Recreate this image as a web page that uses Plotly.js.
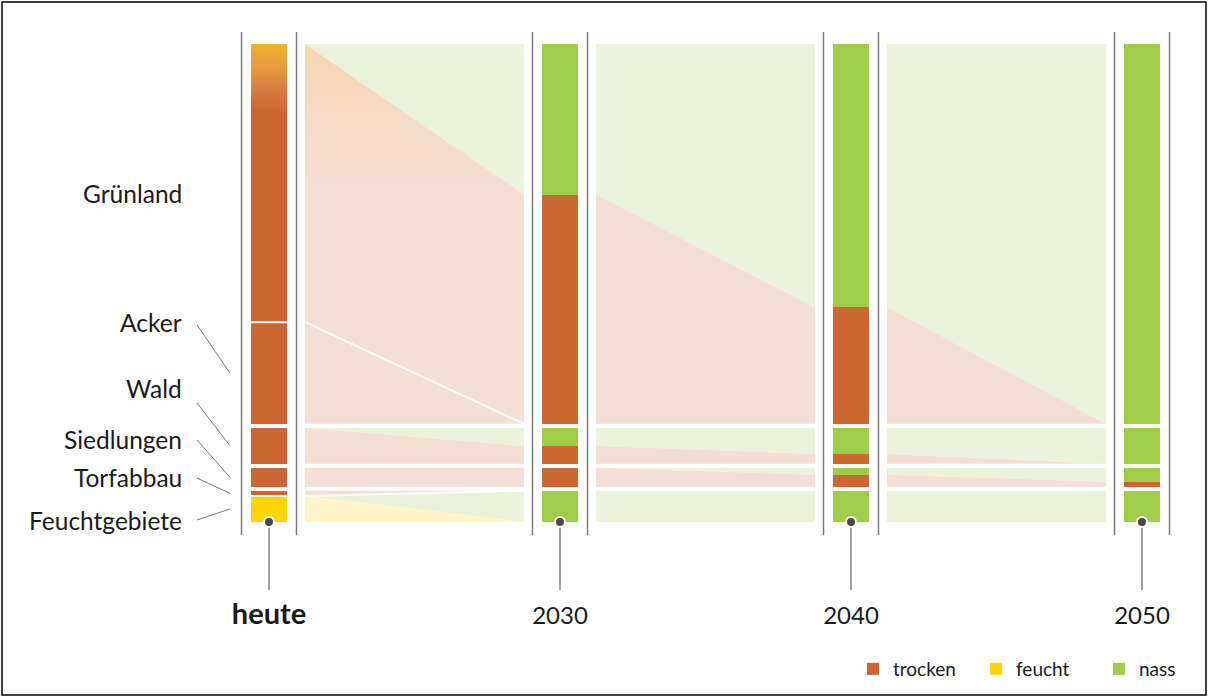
<!DOCTYPE html>
<html><head><meta charset="utf-8">
<script src="https://cdn.plot.ly/plotly-3.0.1.min.js"></script>
<style>html,body{margin:0;padding:0;background:#fff}#chart{width:1208px;height:697px}</style>
</head><body><div id="chart"></div>
<script>
// ---------- DATA (shares of peatland area, %) ----------
const years = ['heute', '2030', '2040', '2050'];
const categories = ['Grünland', 'Acker', 'Wald', 'Siedlungen', 'Torfabbau', 'Feuchtgebiete'];
const categoryGroup = [0, 0, 1, 2, 3, 3];
const stateNames = ['trocken', 'feucht', 'nass'];

const gruenlandNass    = [0, 32.3, 56.5, 81.5];
const gruenlandTrocken = [59.7, 49.2, 25.0, 0];
const gruenlandFeucht  = [0, 0, 0, 0];
const ackerNass        = [0, 0, 0, 0];
const ackerTrocken     = [21.8, 0, 0, 0];
const ackerFeucht      = [0, 0, 0, 0];
const waldNass         = [0, 3.9, 5.6, 7.7];
const waldTrocken      = [7.7, 3.8, 2.1, 0];
const waldFeucht       = [0, 0, 0, 0];
const siedlungenNass   = [0, 0, 1.5, 3.0];
const siedlungenTrocken= [4.1, 4.1, 2.6, 1.1];
const siedlungenFeucht = [0, 0, 0, 0];
const torfabbauNass    = [0, 0, 0, 0];
const torfabbauTrocken = [1.1, 0, 0, 0];
const torfabbauFeucht  = [0, 0, 0, 0];
const feuchtgebieteNass    = [0, 6.7, 6.7, 6.7];
const feuchtgebieteTrocken = [0, 0, 0, 0];
const feuchtgebieteFeucht  = [5.6, 0, 0, 0];

// table built from the arrays above: [category][state] -> values per year
const values = [
  {nass: gruenlandNass, trocken: gruenlandTrocken, feucht: gruenlandFeucht},
  {nass: ackerNass, trocken: ackerTrocken, feucht: ackerFeucht},
  {nass: waldNass, trocken: waldTrocken, feucht: waldFeucht},
  {nass: siedlungenNass, trocken: siedlungenTrocken, feucht: siedlungenFeucht},
  {nass: torfabbauNass, trocken: torfabbauTrocken, feucht: torfabbauFeucht},
  {nass: feuchtgebieteNass, trocken: feuchtgebieteTrocken, feucht: feuchtgebieteFeucht}
];

// ---------- STYLE / GEOMETRY ----------
const W = 1208, H = 697, MB = 98, PH = H - MB;
const X0PX = 269, XSTEP = 291;
const BAR_TOP_PX = 44, BAR_BOT_PX = 522, GAP_PX = 4;
const BAR_HALF_PX = 18, FLOW_OFF_PX = 36, SIDE_PX = 27.5;
const FONT = 'Lato, "Open Sans", "DejaVu Sans", sans-serif';
const stackOrder = ['nass', 'trocken', 'feucht'];
const barColor  = {trocken: '#CC6633', feucht: '#FFD400', nass: '#A0CC4B'};
const flowColor = {trocken: '#F5DFD5', feucht: '#FFF4C6', nass: '#EAF2D9'};

const nGroups = new Set(categoryGroup).size;
const total = values.reduce((a, c) => a + stackOrder.reduce((b, s) => b + c[s][0], 0), 0);
const k = (BAR_BOT_PX - BAR_TOP_PX - (nGroups - 1) * GAP_PX) / total; // px per %
const gapU = GAP_PX / k;
const topU = total + (nGroups - 1) * gapU;
const px2x = p => (p - X0PX) / XSTEP;
const py2y = p => (BAR_BOT_PX - p) / k;
const dx = px => px / XSTEP;
const pyPaper = p => (PH - p) / PH;

function stackYear(i) {
  let cur = topU, prevG = null;
  const seg = [], catTop = [], catBot = [];
  categories.forEach((c, ci) => {
    if (prevG !== null && categoryGroup[ci] !== prevG) cur -= gapU;
    prevG = categoryGroup[ci];
    catTop[ci] = cur;
    seg[ci] = {};
    stackOrder.forEach(s => {
      const v = values[ci][s][i];
      seg[ci][s] = {top: cur, bot: cur - v, v: v};
      cur -= v;
    });
    catBot[ci] = cur;
  });
  return {seg, catTop, catBot};
}
const stacks = years.map((y, i) => stackYear(i));

const traces = [];

// ---------- FLOWS ----------
for (let i = 0; i < years.length - 1; i++) {
  const xl = i + dx(FLOW_OFF_PX), xr = i + 1 - dx(FLOW_OFF_PX);
  categories.forEach((c, ci) => {
    stackOrder.forEach(s => {
      const L = stacks[i].seg[ci][s], R = stacks[i + 1].seg[ci][s];
      if (L.v <= 0 && R.v <= 0) return;
      const t = {
        type: 'scatter', mode: 'lines', x: [xl, xr, xr, xl, xl], y: [L.top, R.top, R.bot, L.bot, L.top],
        fill: 'toself', fillcolor: flowColor[s], line: {width: 0}, hoverinfo: 'skip', showlegend: false
      };
      if (i === 0 && ci === 0 && s === 'trocken') {
        t.fillgradient = {type: 'vertical', start: py2y(200), stop: L.top,
          colorscale: [[0, flowColor.trocken], [0.55, '#F6DBC8'], [1, '#F9D4AC']]};
      }
      traces.push(t);
    });
  });
}

// ---------- BARS ----------
['trocken', 'feucht', 'nass'].forEach(s => {
  const x = [], base = [], y = [];
  years.forEach((yr, i) => {
    categories.forEach((c, ci) => {
      const g = stacks[i].seg[ci][s];
      if (g.v > 0) { x.push(i); base.push(g.bot); y.push(g.v); }
    });
  });
  traces.push({type: 'bar', name: s, x, y, base, width: dx(2 * BAR_HALF_PX),
    marker: {color: barColor[s], line: {width: 0}}, hoverinfo: 'skip', showlegend: true});
});

// gradient at top of today's Grünland bar
(function () {
  const g = stacks[0].seg[0].trocken;
  const xa = -dx(BAR_HALF_PX), xb = dx(BAR_HALF_PX), yb = py2y(112);
  traces.push({type: 'scatter', mode: 'lines', x: [xa, xb, xb, xa, xa], y: [g.top, g.top, yb, yb, g.top],
    fill: 'toself', line: {width: 0}, hoverinfo: 'skip', showlegend: false,
    fillcolor: '#E39540',
    fillgradient: {type: 'vertical', start: yb, stop: g.top,
      colorscale: [[0, barColor.trocken], [0.3, '#D77A40'], [0.65, '#E69B3E'], [1, '#F0B22A']]}});
})();

// ---------- CATEGORY BOUNDARY LINES (within groups) ----------
for (let ci = 0; ci < categories.length - 1; ci++) {
  if (categoryGroup[ci] !== categoryGroup[ci + 1]) continue;
  years.forEach((yr, i) => {
    const st = stacks[i];
    const up = stackOrder.reduce((a, s) => a + values[ci][s][i], 0);
    const dn = stackOrder.reduce((a, s) => a + values[ci + 1][s][i], 0);
    if (up > 0 && dn > 0) {
      traces.push({type: 'scatter', mode: 'lines', x: [i - dx(BAR_HALF_PX), i + dx(BAR_HALF_PX)],
        y: [st.catBot[ci], st.catBot[ci]], line: {color: '#ffffff', width: 2}, hoverinfo: 'skip', showlegend: false});
    }
    if (i < years.length - 1) {
      const st2 = stacks[i + 1];
      const up2 = stackOrder.reduce((a, s) => a + values[ci][s][i + 1], 0);
      const dn2 = stackOrder.reduce((a, s) => a + values[ci + 1][s][i + 1], 0);
      if ((up > 0 && dn > 0) || (up2 > 0 && dn2 > 0)) {
        traces.push({type: 'scatter', mode: 'lines', x: [i + dx(FLOW_OFF_PX), i + 1 - dx(FLOW_OFF_PX)],
          y: [st.catBot[ci], st2.catBot[ci]], line: {color: '#ffffff', width: 2}, hoverinfo: 'skip', showlegend: false});
      }
    }
  });
}

// ---------- SIDE LINES, STEMS, DOTS ----------
years.forEach((yr, i) => {
  [-1, 1].forEach(sgn => {
    traces.push({type: 'scatter', mode: 'lines', x: [i + sgn * dx(SIDE_PX), i + sgn * dx(SIDE_PX)],
      y: [py2y(32), py2y(535)], line: {color: '#7a7a7a', width: 1.5}, hoverinfo: 'skip', showlegend: false});
  });
  traces.push({type: 'scatter', mode: 'lines', x: [i, i], y: [0, py2y(590)],
    line: {color: '#808080', width: 1.5}, hoverinfo: 'skip', showlegend: false});
});
traces.push({type: 'scatter', mode: 'markers', x: years.map((y, i) => i), y: years.map(() => 0),
  marker: {size: 10, color: '#4a4a4a', line: {color: '#ffffff', width: 2}}, hoverinfo: 'skip', showlegend: false});

// ---------- LEFT LABELS + LEADERS ----------
const labelYpx = [193, 322, 388, 439, 477, 520];
const leaderStartYpx = [null, 325, 403, 440, 478, 520];
const annotations = categories.map((c, ci) => ({
  x: px2x(184), y: py2y(labelYpx[ci]), xref: 'x', yref: 'y', text: c, showarrow: false,
  xanchor: 'right', yanchor: 'middle', font: {family: FONT, size: 24.5, color: '#1a1a1a'}
}));
categories.forEach((c, ci) => {
  if (leaderStartYpx[ci] === null) return;
  const st = stacks[0];
  const mid = (st.catTop[ci] + st.catBot[ci]) / 2;
  traces.push({type: 'scatter', mode: 'lines', x: [px2x(197), px2x(230)], y: [py2y(leaderStartYpx[ci]), mid],
    line: {color: '#7a7a7a', width: 1}, hoverinfo: 'skip', showlegend: false});
});

const layout = {
  width: W, height: H, margin: {l: 0, r: 0, t: 0, b: MB, autoexpand: false},
  paper_bgcolor: '#ffffff', plot_bgcolor: '#ffffff',
  barmode: 'overlay', bargap: 0,
  xaxis: {range: [px2x(0), px2x(W)], tickvals: years.map((y, i) => i),
    ticktext: years.map((y, i) => i === 0 ? '<b><span style="font-size:29px">' + y + '</span></b>' : y),
    showgrid: false, zeroline: false, showline: false, ticks: '', fixedrange: true, automargin: false,
    tickfont: {family: FONT, size: 24, color: '#1a1a1a'}},
  yaxis: {range: [py2y(PH), py2y(0)], visible: false, fixedrange: true, automargin: false},
  showlegend: true,
  legend: {orientation: 'h', x: 853 / W, xanchor: 'left', y: pyPaper(650), yanchor: 'top',
    font: {family: FONT, size: 19, color: '#1a1a1a'}, entrywidth: 78, entrywidthmode: 'pixels',
    bgcolor: 'rgba(0,0,0,0)', traceorder: 'normal'},
  annotations: annotations,
  shapes: [{type: 'rect', xref: 'paper', yref: 'paper', x0: 2 / W, x1: (W - 2) / W,
    y0: pyPaper(H - 2), y1: pyPaper(2), line: {color: '#000000', width: 1.5}, fillcolor: 'rgba(0,0,0,0)'}]
};

Plotly.newPlot('chart', traces, layout, {displayModeBar: false, staticPlot: true});
</script>
</body></html>
